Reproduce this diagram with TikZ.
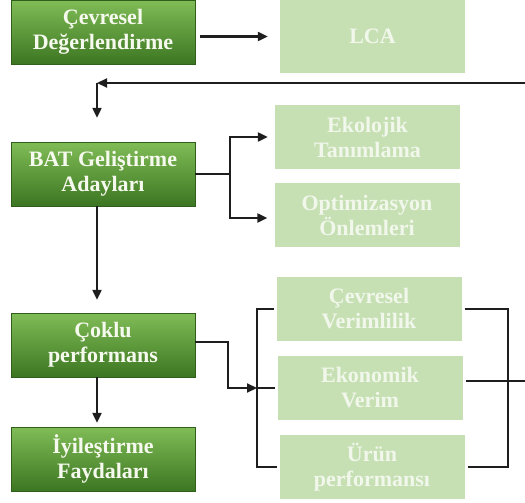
\documentclass[tikz,border=0pt]{standalone}
\usepackage{fontspec}
\setmainfont{Liberation Serif}
\usetikzlibrary{arrows.meta}
\definecolor{dtop}{RGB}{128,188,86}
\definecolor{dbot}{RGB}{60,118,34}
\definecolor{dtext}{RGB}{246,249,238}
\definecolor{lfill}{RGB}{198,224,180}
\definecolor{ltext}{RGB}{241,247,235}
\definecolor{ink}{RGB}{30,30,30}
\tikzset{
  darkbox/.style={rectangle, top color=dtop, bottom color=dbot, draw=dbot!80!black, line width=0.4pt,
    minimum width=184pt, minimum height=64pt, inner sep=0pt, align=center,
    text=dtext, font=\fontsize{22}{25}\selectfont\bfseries},
  lightbox/.style={rectangle, fill=lfill, draw=none,
    minimum width=185pt, minimum height=64pt, inner sep=0pt, align=center,
    text=ltext, font=\fontsize{22}{25}\selectfont\bfseries},
  link/.style={draw=ink, line width=2.2pt},
  arr/.style={link, -{Triangle[length=10pt,width=9pt]}}
}
\begin{document}
\begin{tikzpicture}[x=1pt, y=-1pt]
\useasboundingbox (0,0) rectangle (525,503);
% left column
\node[darkbox] (cd)  at (103,32)  {Çevresel\\Değerlendirme};
\node[darkbox] (bat) at (103,174) {BAT Geliştirme\\Adayları};
\node[darkbox] (cok) at (103,345) {Çoklu\\performans};
\node[darkbox] (iyi) at (103,459) {İyileştirme\\Faydaları};
% right column
\node[lightbox, minimum height=73pt] (lca) at (372.5,36.5) {LCA};
\node[lightbox] (eko)  at (367.5,137) {Ekolojik\\Tanımlama};
\node[lightbox] (opt)  at (367,215)   {Optimizasyon\\Önlemleri};
\node[lightbox] (cv)   at (369,309)   {Çevresel\\Verimlilik};
\node[lightbox] (ev)   at (370,388)   {Ekonomik\\Verim};
\node[lightbox] (urun) at (372,467)   {Ürün\\performansı};
% helper coordinates
\coordinate (lbx) at (257,0);
\coordinate (rbx) at (508,0);
\coordinate (fbR) at (525,381);
\coordinate (fbT) at (525,83);
\coordinate (fbL) at (97,83);
% connectors
\draw[arr, shorten <=5pt, shorten >=12pt] (lca.west -| cd.east) -- (lca.west);
\draw[arr] (fbT) -- (fbL);
\draw[arr, shorten >=24pt] (fbL) -- ([xshift=-6pt]bat.north);
\draw[link] (bat.east) -- ++(35,0) coordinate (bj);
\draw[arr, shorten >=7pt] (bj) |- (eko.west);
\draw[arr, shorten >=7pt] (bj) |- ([yshift=-3pt]opt.west);
\draw[arr, shorten >=13pt] ([xshift=-6pt]bat.south) -- ([xshift=-6pt]cok.north);
\draw[arr, shorten >=4pt] ([xshift=-6pt]cok.south) -- ([xshift=-6pt]iyi.north);
\draw[arr] ([yshift=3pt]cok.east) -- ++(33,0) |- (lbx |- ev.west);
% bracket around the performance boxes
\draw[link, shorten <=2pt, shorten >=2pt] (cv.west) -| (lbx |- urun.west) -- (urun.west);
\draw[link, shorten >=2pt] (lbx |- ev.west) -- (ev.west);
\draw[link, shorten <=3pt, shorten >=3pt] (cv.east) -| (rbx |- urun.east) -- (urun.east);
\draw[link, shorten <=3pt] ([yshift=7pt]ev.east) -- (fbR);
\end{tikzpicture}
\end{document}
